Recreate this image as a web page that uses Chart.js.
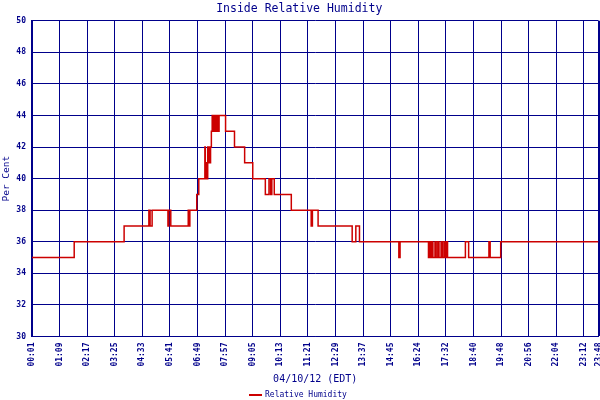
<!DOCTYPE html>
<html><head><meta charset="utf-8">
<script src="https://cdn.jsdelivr.net/npm/chart.js@4"></script>
<style>html,body{margin:0;padding:0;background:#fff}#wrap{width:600px;height:400px}</style>
</head><body><div id="wrap"><canvas id="c" width="600" height="400"></canvas></div>
<script>
const chartTitle = 'Inside Relative Humidity';
const xAxisTitle = '04/10/12 (EDT)';
const yAxisTitle = 'Per Cent';
const seriesLabel = 'Relative Humidity';
const tickIndex = [0,68,136,204,272,340,408,476,544,612,680,748,816,884,952,1020,1088,1156,1224,1292,1360,1396];
const tickLabels = ['00:01','01:09','02:17','03:25','04:33','05:41','06:49','07:57','09:05','10:13','11:21','12:29','13:37','14:45','16:24','17:32','18:40','19:48','20:56','22:04','23:12','23:48'];
const stepIndex = [0,104,227,288,291,296,335,337,342,385,387,389,406,411,426,427,429,432,433,434,437,438,440,442,444,447,449,451,453,456,458,460,461,477,499,524,544,575,584,588,591,597,639,688,691,705,789,798,807,904,907,977,979,982,985,988,993,996,1000,1003,1008,1011,1015,1018,1021,1024,1068,1076,1126,1129,1155,1396];
const humidity  = [35,36,37,38,37,38,37,38,37,38,37,38,39,40,42,40,41,40,42,41,42,41,42,43,44,43,44,43,44,43,44,43,44,43,42,41,40,39,40,39,40,39,38,37,38,37,36,37,36,35,36,35,36,35,36,35,36,35,36,35,36,35,36,35,36,35,36,35,36,35,36,36];
const yMin = 30, yMax = 50, yStep = 2;

const navy = '#00008b';
const red = '#cc0000';
const monoFont = "'DejaVu Sans Mono', monospace";
Chart.defaults.font.family = monoFont;

const points = stepIndex.map((x, i) => ({x: x, y: humidity[i]}));

const legendPlugin = {
  id: 'customLegend',
  afterDraw(chart) {
    const c = chart.ctx;
    const ds = chart.data.datasets[0];
    c.save();
    c.strokeStyle = ds.borderColor;
    c.lineWidth = 2;
    c.beginPath();
    c.moveTo(249, 395);
    c.lineTo(262, 395);
    c.stroke();
    c.fillStyle = navy;
    c.font = "8px " + monoFont;
    c.textBaseline = 'middle';
    c.textAlign = 'left';
    c.fillText(ds.label, 265, 395);
    c.restore();
  }
};

new Chart(document.getElementById('c'), {
  type: 'line',
  data: {
    datasets: [{
      label: seriesLabel,
      data: points,
      borderColor: red,
      backgroundColor: red,
      borderWidth: 1.5,
      pointRadius: 0,
      stepped: true,
      fill: false
    }]
  },
  options: {
    responsive: false,
    animation: false,
    layout: {padding: {left: 0, right: 1.5, top: 0, bottom: 0}},
    plugins: {
      legend: {display: false},
      tooltip: {enabled: false},
      title: {display: true, text: chartTitle, color: navy, font: {size: 11.5, weight: 'normal'}, padding: {top: 2, bottom: 5}}
    },
    scales: {
      x: {
        type: 'linear', min: 0, max: 1396,
        afterBuildTicks: s => { s.ticks = tickIndex.map(v => ({value: v})); },
        afterFit: s => { s.height = 63.5; s.paddingLeft = 0; s.paddingRight = 0; },
        ticks: {
          autoSkip: false, maxRotation: 90, minRotation: 90, padding: 6, color: navy,
          font: {size: 8, weight: 'bold'},
          callback: v => { const k = tickIndex.indexOf(v); return k >= 0 ? tickLabels[k] : ''; }
        },
        grid: {color: navy, lineWidth: c => (c.tick && c.tick.value === 1396) ? 2 : 1, drawTicks: false},
        border: {color: navy, width: 1},
        title: {display: true, text: xAxisTitle, color: navy, font: {size: 10}, padding: {top: 0, bottom: 15}}
      },
      y: {
        min: yMin, max: yMax,
        afterFit: s => { s.width = 32; s.paddingTop = 0; s.paddingBottom = 0; },
        ticks: {stepSize: yStep, padding: 6, color: navy, font: {size: 8, weight: 'bold'}},
        grid: {color: navy, lineWidth: 1, drawTicks: false},
        border: {color: navy, width: 2},
        title: {display: true, text: yAxisTitle, color: navy, font: {size: 9.5}, padding: {top: 1, bottom: 0}}
      }
    }
  },
  plugins: [legendPlugin]
});
</script>
</body></html>
